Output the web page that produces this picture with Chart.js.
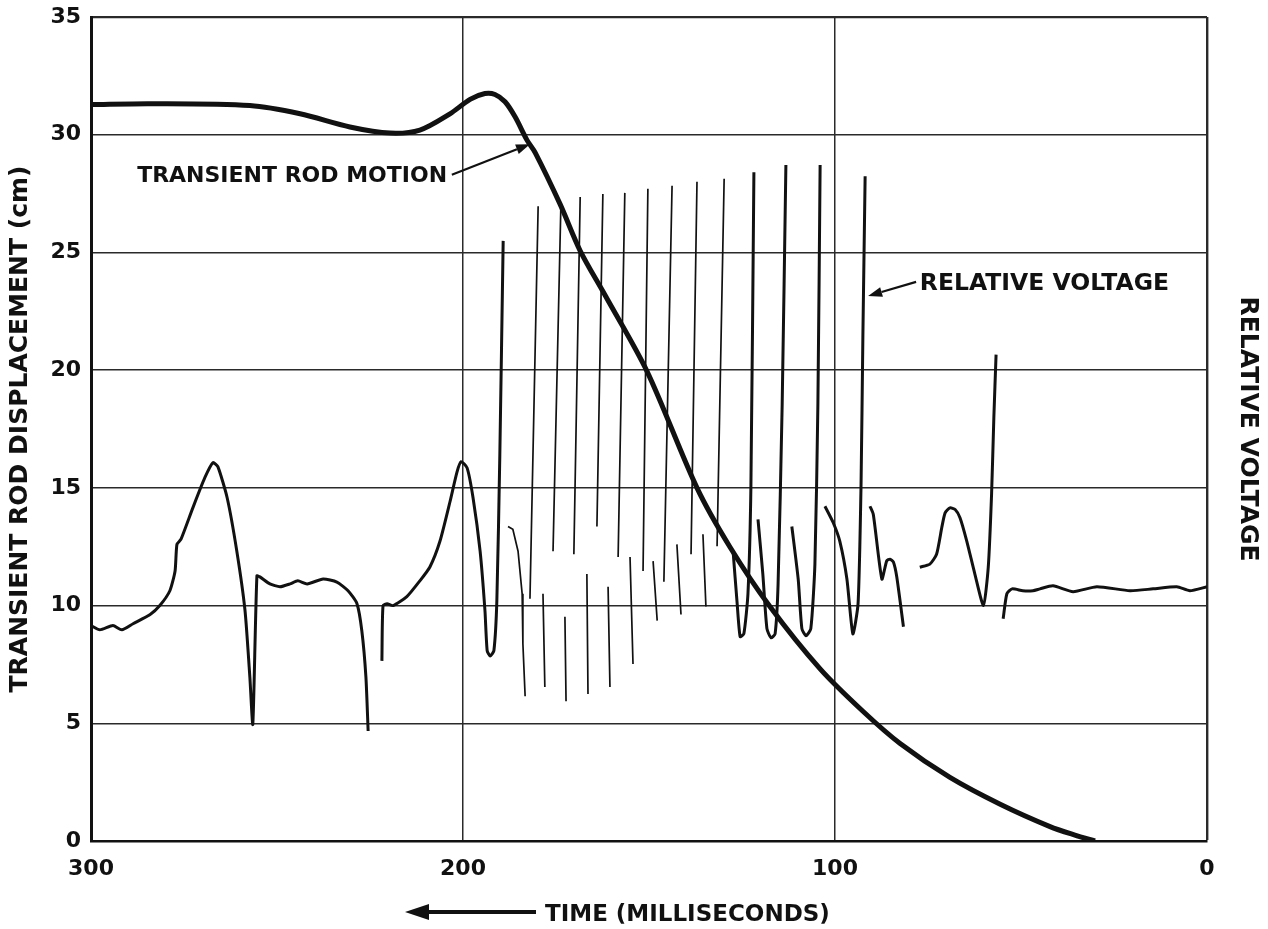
<!DOCTYPE html>
<html>
<head>
<meta charset="utf-8">
<title>Transient rod motion and relative voltage</title>
<script src="https://cdn.jsdelivr.net/npm/chart.js@4.4.1/dist/chart.umd.min.js"></script>
<style>
  html, body { margin: 0; padding: 0; background: #fff; }
  #wrap { width: 1268px; height: 929px; }
</style>
</head>
<body>
<div id="wrap"><canvas id="chart" width="1268" height="929"></canvas></div>
<script>
// --- DATA (time in ms, displacement in cm) ---
const xTickValues = [300, 200, 100, 0];
const yTickValues = [0, 5, 10, 15, 20, 25, 30, 35];

// transient rod motion (heavy curve)
const rodTime = [300, 284.1, 257.3, 243.8, 230.4, 219.6, 211.6, 203.5, 198.1, 194.1, 191.4, 188.7, 186.0, 182.8, 180.6,
  173.9, 168.5, 161.8, 150.5, 137.1, 128.2, 117.5, 104.0, 92.5, 82.5, 69.1, 55.6, 42.2, 35.5, 30.1];
const rodCm = [31.28, 31.32, 31.24, 30.89, 30.33, 30.07, 30.2, 30.89, 31.5, 31.75, 31.71, 31.4, 30.76, 29.77, 29.24,
  27.05, 25.07, 23.18, 19.94, 15.0, 12.48, 9.96, 7.31, 5.51, 4.14, 2.70, 1.56, 0.61, 0.25, 0];

// relative voltage, heavy strokes (null = pen lifted)
const voltTime = [
  300, 297.6, 294.1, 291.7, 288.7, 284.1, 281.5, 278.8, 277.4, 276.9, 275.8, 272.6, 269.4, 267.2, 265.9, 263.4, 260.8,
  258.6, 257.3, 256.5, 255.4, 254.6, 251.9, 249.2, 246.5, 244.4, 241.9, 237.6, 233.9, 230.9, 228.5, 227.2, 226.1, 225.5, null,
  221.8, 221.5, 220.4, 218.8, 215.1, 211.6, 208.9, 206.2, 203.5, 201.6, 200.5, 198.9, 197.3, 195.4, 194.1, 193.5, 192.7,
  191.7, 190.9, 190.1, 189.2, null,
  127.4, 126.3, 125.5, 124.5, 123.4, 122.6, 121.8, null,
  120.7, 119.4, 118.3, 117.2, 116.1, 115.3, 114.2, 113.2, null,
  111.6, 109.9, 108.9, 107.8, 106.5, 105.4, 104.6, 104.0, null,
  102.7, 100.5, 98.7, 96.8, 95.2, 93.8, 93.0, 92.5, 91.9, null,
  90.6, 89.7, 87.4, 86.1, 85.2, 84.3, 83.4, 81.6, null,
  77.2, 74.5, 72.7, 71.3, 70.4, 69.1, 67.7, 66.4, 64.6, 62.4, 60.1, 58.8, 57.9, 57.3, 56.7, null,
  54.8, 53.8, 52.4, 49.5, 46.8, 44.9, 41.4, 36.0, 29.6, 20.7, 14.5, 8.1, 4.6, 0
];
const voltValue = [
  9.15, 8.97, 9.15, 8.97, 9.23, 9.62, 10.0, 10.63, 11.47, 12.6, 12.82, 14.16, 15.43, 16.07, 15.9, 14.58, 12.31,
  9.79, 6.97, 4.96, 11.26, 11.22, 10.92, 10.8, 10.92, 11.05, 10.92, 11.13, 11.0, 10.63, 10.08, 8.93, 6.97, 4.67, null,
  7.65, 10.0, 10.08, 10.0, 10.38, 11.05, 11.64, 12.73, 14.41, 15.68, 16.11, 15.85, 14.58, 12.31, 9.79, 8.08, 7.86,
  8.08, 10.21, 16.4, 25.49, null,
  12.31, 10.08, 8.68, 8.8, 10.5, 15.13, 28.41, null,
  13.66, 11.34, 9.02, 8.63, 8.8, 10.92, 18.54, 28.71, null,
  13.36, 11.13, 9.02, 8.72, 9.02, 11.76, 18.54, 28.71, null,
  14.22, 13.53, 12.73, 11.13, 8.8, 10.08, 15.13, 21.5, 28.24, null,
  14.22, 13.87, 11.13, 11.9, 11.97, 11.85, 11.22, 9.1, null,
  11.63, 11.76, 12.18, 13.31, 13.94, 14.15, 14.08, 13.73, 12.75, 11.34, 10.01, 11.63, 14.77, 17.98, 20.66, null,
  9.44, 10.5, 10.71, 10.63, 10.63, 10.71, 10.84, 10.59, 10.8, 10.63, 10.71, 10.8, 10.63, 10.8
];

// relative voltage, thin fast strokes (spikes)
const spikeTime = [
  187.9, 186.6, 185.2, 184.1, 183.9, 183.3, null,
  182.0, 179.8, null, 178.5, 178.0, null,
  175.8, 173.7, null, 172.6, 172.3, null,
  170.2, 168.5, null, 166.7, 166.4, null,
  164.0, 162.4, null, 161.0, 160.5, null,
  158.3, 156.5, null, 155.1, 154.3, null,
  151.6, 150.3, null, 148.9, 147.8, null,
  146.0, 143.8, null, 142.5, 141.4, null,
  138.7, 137.1, null, 135.5, 134.7, null,
  131.7, 129.8
];
const spikeValue = [
  13.36, 13.24, 12.31, 10.5, 8.38, 6.15, null,
  10.29, 26.96, null, 10.5, 6.54, null,
  12.31, 26.92, null, 9.53, 5.94, null,
  12.18, 27.35, null, 11.34, 6.24, null,
  13.36, 27.48, null, 10.8, 6.54, null,
  12.06, 27.53, null, 12.06, 7.52, null,
  11.47, 27.7, null, 11.89, 9.36, null,
  11.01, 27.83, null, 12.6, 9.62, null,
  12.18, 28.0, null, 13.03, 9.96, null,
  12.52, 28.13
];

// labels: [time, cm] of text baseline start, arrow tail, arrow tip
const rodLabel = { text: 'TRANSIENT ROD MOTION', size: 22, at: [287.6, 28.0], tail: [203.0, 28.3], tip: [182.0, 29.6] };
const voltLabel = { text: 'RELATIVE VOLTAGE', size: 23.5, at: [77.2, 23.4], tail: [78.2, 23.75], tip: [91.1, 23.15] };

const INK = '#111';
const FONT = '"DejaVu Sans", sans-serif';

function toPoints(ts, vs) {
    return ts.map((t, i) => ({ x: t === null ? NaN : t, y: vs[i] }));
}

function drawArrow(ctx, x0, y0, x1, y1, lw, headLen, headW) {
    const a = Math.atan2(y1 - y0, x1 - x0);
    const bx = x1 - Math.cos(a) * headLen, by = y1 - Math.sin(a) * headLen;
    ctx.lineWidth = lw;
    ctx.beginPath();
    ctx.moveTo(x0, y0);
    ctx.lineTo(bx, by);
    ctx.stroke();
    ctx.beginPath();
    ctx.moveTo(x1, y1);
    ctx.lineTo(bx + Math.sin(a) * headW, by - Math.cos(a) * headW);
    ctx.lineTo(bx - Math.sin(a) * headW, by + Math.cos(a) * headW);
    ctx.closePath();
    ctx.fill();
}

const labelPlugin = {
    id: 'labels',
    afterDraw(chart) {
        const { ctx, scales: { x, y } } = chart;
        ctx.save();
        ctx.fillStyle = INK;
        ctx.strokeStyle = INK;
        ctx.textBaseline = 'alphabetic';
        [rodLabel, voltLabel].forEach(l => {
            ctx.font = 'bold ' + l.size + 'px ' + FONT;
            ctx.fillText(l.text, x.getPixelForValue(l.at[0]), y.getPixelForValue(l.at[1]));
            drawArrow(ctx,
                x.getPixelForValue(l.tail[0]), y.getPixelForValue(l.tail[1]),
                x.getPixelForValue(l.tip[0]), y.getPixelForValue(l.tip[1]), 2.2, 14, 5);
        });
        // x axis title with arrow pointing to earlier time
        ctx.font = 'bold 23px ' + FONT;
        ctx.fillText('TIME (MILLISECONDS)', 545, 921);
        drawArrow(ctx, 536, 912, 405, 912, 4, 24, 8);
        ctx.restore();
    }
};

new Chart(document.getElementById('chart'), {
    type: 'line',
    data: {
        datasets: [
            {
                label: 'Relative voltage',
                data: toPoints(voltTime, voltValue),
                borderColor: INK,
                borderWidth: 3,
                tension: 0.2,
                pointRadius: 0,
                spanGaps: false
            },
            {
                label: 'Relative voltage (fast)',
                data: toPoints(spikeTime, spikeValue),
                borderColor: INK,
                borderWidth: 1.7,
                tension: 0,
                pointRadius: 0,
                spanGaps: false
            },
            {
                label: 'Transient rod motion',
                data: toPoints(rodTime, rodCm),
                borderColor: INK,
                borderWidth: 5,
                tension: 0.3,
                pointRadius: 0
            }
        ]
    },
    options: {
        responsive: false,
        animation: false,
        devicePixelRatio: 1,
        layout: { padding: { top: 17, left: 0, right: 0, bottom: 0 } },
        plugins: { legend: { display: false }, tooltip: { enabled: false } },
        scales: {
            x: {
                type: 'linear',
                min: 0, max: 300,
                reverse: true,
                afterBuildTicks: s => { s.ticks = xTickValues.map(v => ({ value: v })); },
                afterFit: s => { s.height = 88; s.paddingLeft = 0; s.paddingRight = 0; },
                grid: { color: '#2a2a2a', lineWidth: c => (c.tick && c.tick.value === 0 ? 2.4 : 1.5), drawTicks: false },
                border: { display: true, color: INK, width: 2.6 },
                ticks: { color: INK, padding: 15, font: { family: FONT, size: 22, weight: 'bold' } }
            },
            y: {
                position: 'left',
                min: 0, max: 35,
                afterBuildTicks: s => { s.ticks = yTickValues.map(v => ({ value: v })); },
                afterFit: s => { s.width = 91; s.paddingTop = 0; s.paddingBottom = 0; },
                grid: { color: '#2a2a2a', lineWidth: c => (c.tick && c.tick.value === 35 ? 2.2 : 1.5), drawTicks: false },
                border: { display: true, color: INK, width: 3 },
                ticks: { color: INK, padding: 10, font: { family: FONT, size: 22, weight: 'bold' } },
                title: { display: true, text: 'TRANSIENT ROD DISPLACEMENT (cm)', color: INK,
                    padding: { top: 5, bottom: 0 }, font: { family: FONT, size: 25, weight: 'bold' } }
            },
            y2: {
                position: 'right',
                min: 0, max: 35,
                afterFit: s => { s.width = 61; s.paddingTop = 0; s.paddingBottom = 0; },
                grid: { display: false, drawTicks: false },
                border: { display: false },
                ticks: { display: false },
                title: { display: true, text: 'RELATIVE VOLTAGE', color: INK,
                    padding: { top: 6, bottom: 0 }, font: { family: FONT, size: 25, weight: 'bold' } }
            }
        }
    },
    plugins: [labelPlugin]
});
</script>
</body>
</html>
